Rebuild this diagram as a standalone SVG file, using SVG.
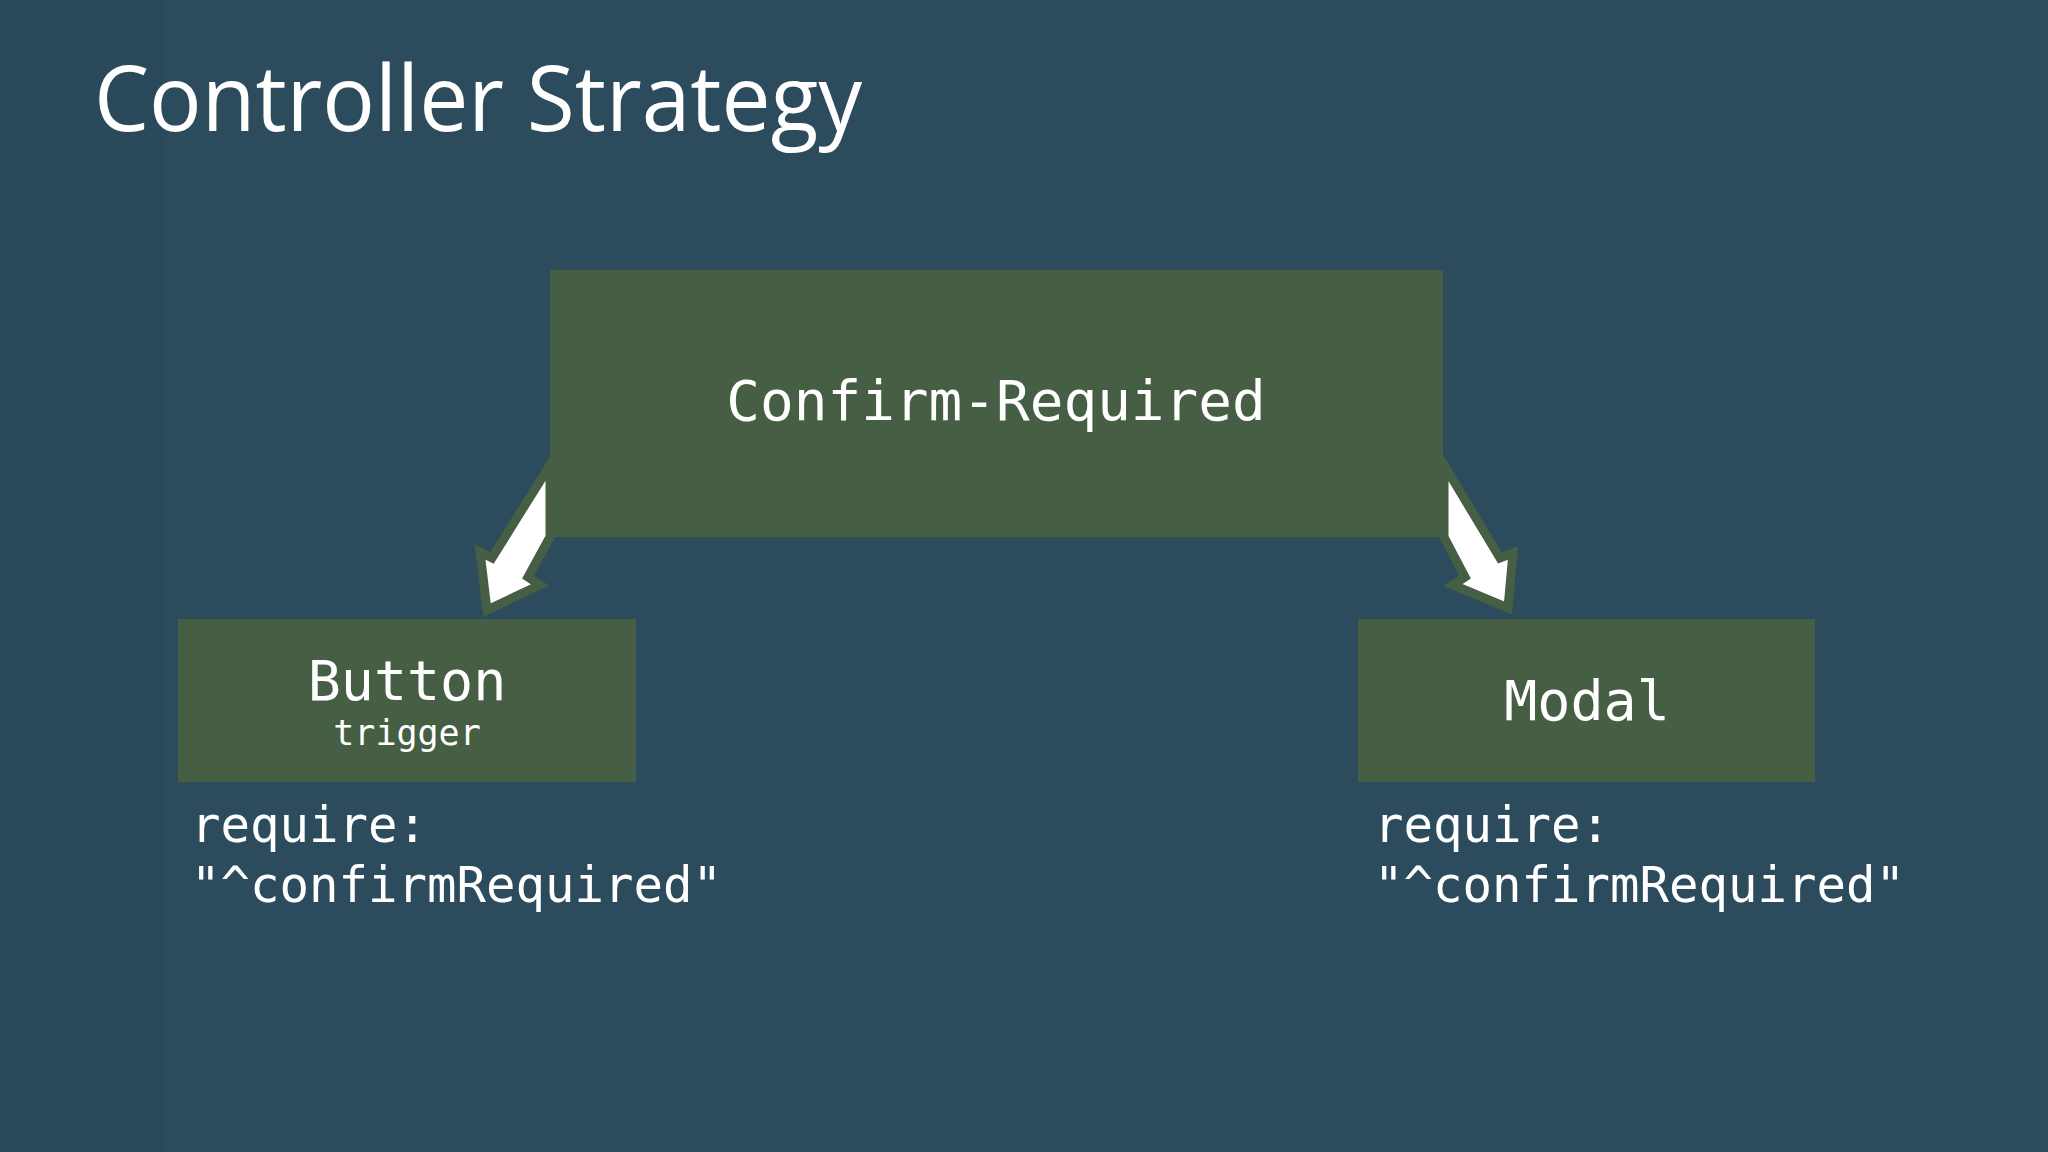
<svg xmlns="http://www.w3.org/2000/svg" width="2048" height="1152" viewBox="0 0 2048 1152">
<style>
.box{fill:#465e43}
.mono{font-family:"DejaVu Sans Mono",monospace;fill:#ffffff}
.arrow{fill:#ffffff;stroke:#465e43;stroke-width:9;stroke-linejoin:miter}
</style>
<rect width="2048" height="1152" fill="#2c4c5e"/>
<rect width="163" height="1152" fill="#2a495a"/>
<text x="94" y="131" font-family="'Open Sans','Noto Sans',sans-serif" font-size="92" fill="#ffffff" textLength="768" lengthAdjust="spacingAndGlyphs">Controller Strategy</text>
<g id="connectors">
<polygon class="arrow" points="550,465 550,537 528,577 540,585 487,610 480,552 492,558"/>
<polygon class="arrow" points="1444,465 1444,537 1465,577 1453,585 1508,608 1513,553 1500,558"/>
</g>
<g id="confirm-required">
<rect class="box" x="550" y="270" width="893" height="267"/>
<text class="mono" x="996" y="420" font-size="56" text-anchor="middle">Confirm-Required</text>
</g>
<g id="button">
<rect class="box" x="178" y="619" width="458" height="163"/>
<text class="mono" x="407" y="700" font-size="55" text-anchor="middle">Button</text>
<text class="mono" x="407" y="745" font-size="35" text-anchor="middle">trigger</text>
</g>
<g id="modal">
<rect class="box" x="1358" y="619" width="457" height="163"/>
<text class="mono" x="1587" y="720" font-size="55" text-anchor="middle">Modal</text>
</g>
<g id="labels">
<text class="mono" x="191" y="842" font-size="49">require:</text>
<text class="mono" x="191" y="902" font-size="49">"^confirmRequired"</text>
<text class="mono" x="1374" y="842" font-size="49">require:</text>
<text class="mono" x="1374" y="902" font-size="49">"^confirmRequired"</text>
</g>
</svg>
